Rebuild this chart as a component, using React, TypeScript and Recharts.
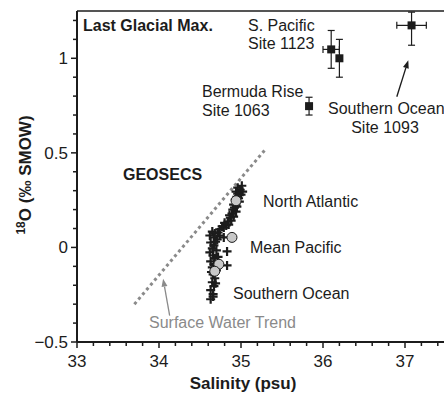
import React from 'react';
import { ScatterChart, Scatter, XAxis, YAxis, ErrorBar, ReferenceLine, ReferenceDot } from 'recharts';

const FONT = '"Liberation Sans", Arial, Helvetica, sans-serif';
const INK = '#1c1c1c';
const GREY = '#8a8a8a';

// GEOSECS seawater samples (salinity psu, d18O permil SMOW)
const geoSalinity = [
  35.01, 34.99, 34.96, 34.94, 35.0, 34.95, 34.93, 34.98, 34.91, 34.95, 34.9, 34.94, 34.89, 34.91,
  34.87, 34.88, 34.84, 34.85, 34.82, 34.79, 34.77, 34.74, 35.02, 34.96, 34.97, 34.92, 34.86, 34.8,
  34.65, 34.68, 34.72, 34.62, 34.67, 34.74, 34.79, 34.71, 34.63, 34.67, 34.65, 34.7, 34.62, 34.66,
  34.83, 34.68, 34.63, 34.67, 34.83, 34.65, 34.7, 34.66, 34.68, 34.65, 34.67, 34.63, 34.66, 34.63,
  34.66, 34.69, 34.72, 34.64, 34.69,
];
const geoD18O = [
  0.326, 0.305, 0.316, 0.295, 0.279, 0.268, 0.253, 0.242, 0.226, 0.216, 0.2, 0.189, 0.179, 0.163,
  0.158, 0.142, 0.137, 0.121, 0.116, 0.105, 0.111, 0.095, 0.295, 0.284, 0.26, 0.21, 0.17, 0.13,
  0.084, 0.074, 0.079, 0.063, 0.053, 0.063, 0.053, 0.042, 0.026, 0.011, -0.005, -0.016, -0.026, -0.042,
  -0.021, -0.058, -0.074, -0.089, -0.095, -0.105, -0.121, -0.142, -0.163, -0.184, -0.205, -0.226, -0.247, -0.274,
  -0.26, 0.03, -0.05, -0.13, -0.19,
];

// basin means
const meanSalinity = [34.94, 34.89, 34.73, 34.68];
const meanD18O = [0.247, 0.053, -0.089, -0.126];

// Last Glacial Maximum pore-water reconstructions
const lgmSalinity = [36.1, 36.2, 35.83, 37.08];
const lgmD18O = [1.047, 1.0, 0.747, 1.174];
const lgmSalErr = [0.1, 0, 0, 0.18];
const lgmD18OErr = [[0.1, 0.1], [0.1, 0.1], [0.047, 0.047], [0.105, 0.07]];

// surface water trend end points
const trendSalinity = [33.7, 35.3];
const trendD18O = [-0.3, 0.52];

const xTicks = [
  33, 33.2, 33.4, 33.6, 33.8, 34, 34.2, 34.4, 34.6, 34.8, 35, 35.2, 35.4, 35.6, 35.8,
  36, 36.2, 36.4, 36.6, 36.8, 37, 37.2, 37.4,
];
const yTicks = [
  -0.5, -0.4, -0.3, -0.2, -0.1, 0, 0.1, 0.2, 0.3, 0.4, 0.5, 0.6, 0.7, 0.8, 0.9, 1, 1.1, 1.2,
];

const notes = [
  { text: 'Last Glacial Max.', s: 33.073, d: 1.174, bold: true },
  { text: 'S. Pacific', s: 35.085, d: 1.174 },
  { text: 'Site 1123', s: 35.085, d: 1.079 },
  { text: 'Bermuda Rise', s: 34.524, d: 0.826 },
  { text: 'Site 1063', s: 34.524, d: 0.726 },
  { text: 'Southern Ocean', s: 36.061, d: 0.737 },
  { text: 'Site 1093', s: 36.756, d: 0.632, anchor: 'middle' },
  { text: 'GEOSECS', s: 33.561, d: 0.384, bold: true },
  { text: 'North Atlantic', s: 35.268, d: 0.242 },
  { text: 'Mean Pacific', s: 35.11, d: 0.0 },
  { text: 'Southern Ocean', s: 34.902, d: -0.242 },
  { text: 'Surface Water Trend', s: 33.878, d: -0.395, color: GREY },
];

// arrows: [from, to]
const arrows = [
  { from: { x: 34.13, y: -0.36 }, to: { x: 34.05, y: -0.165 }, color: GREY },
  { from: { x: 36.9, y: 0.797 }, to: { x: 37.04, y: 0.99 }, color: INK },
];

const geo = geoSalinity.map((s, i) => ({ s, d: geoD18O[i] }));
const means = meanSalinity.map((s, i) => ({ s, d: meanD18O[i] }));
const lgm = lgmSalinity.map((s, i) => ({ s, d: lgmD18O[i], sErr: lgmSalErr[i], dErr: lgmD18OErr[i] }));

const isWhole = (v: number, step: number) => Math.abs(v / step - Math.round(v / step)) < 1e-6;

const XTick = (props: any) => {
  const { x, y, payload } = props;
  const major = isWhole(payload.value, 1);
  return (
    <g>
      <line x1={x} y1={y} x2={x} y2={y + (major ? 6 : 4)} stroke={INK} strokeWidth={1.5} />
      {major && (
        <text x={x} y={y + 25} textAnchor="middle" fontSize={17} fill={INK} fontFamily={FONT}>
          {payload.value}
        </text>
      )}
    </g>
  );
};

const YTick = (props: any) => {
  const { x, y, payload } = props;
  const v = payload.value;
  const major = isWhole(v, 0.5);
  const label = v < 0 ? '\u2212' + Math.abs(v) : String(v);
  return (
    <g>
      <line x1={x} y1={y} x2={x - (major ? 6 : 4)} y2={y} stroke={INK} strokeWidth={1.5} />
      {major && (
        <text x={x - 9} y={y + 6} textAnchor="end" fontSize={17} fill={INK} fontFamily={FONT}>
          {label}
        </text>
      )}
    </g>
  );
};

const Cross = (p: any) => (
  <path d={`M${p.cx - 4.5},${p.cy}h9M${p.cx},${p.cy - 4.5}v9`} stroke={INK} strokeWidth={2.2} fill="none" />
);
const MeanDot = (p: any) => <circle cx={p.cx} cy={p.cy} r={5} fill="#c8c8c8" stroke={INK} strokeWidth={1} />;
const Square = (p: any) => <rect x={p.cx - 4} y={p.cy - 4} width={8} height={8} fill={INK} />;

const arrowShape = (color: string) => (p: any) => {
  const { x1, y1, x2, y2 } = p;
  const a = Math.atan2(y2 - y1, x2 - x1);
  const L = 8;
  const w = 3;
  const bx = x2 - L * Math.cos(a);
  const by = y2 - L * Math.sin(a);
  const px = -Math.sin(a) * w;
  const py = Math.cos(a) * w;
  return (
    <g>
      <line x1={x1} y1={y1} x2={bx} y2={by} stroke={color} strokeWidth={1.3} />
      <polygon points={`${x2},${y2} ${bx + px},${by + py} ${bx - px},${by - py}`} fill={color} />
    </g>
  );
};

const YTitle = () => (
  <text
    transform="translate(31,175) rotate(-90)"
    textAnchor="middle"
    fontSize={17}
    fontWeight="bold"
    fill={INK}
    fontFamily={FONT}
  >
    <tspan fontSize={12} dy={-6}>18</tspan>
    <tspan dy={6}>O (‰ SMOW)</tspan>
  </text>
);

const XTitle = () => (
  <text x={243} y={389} textAnchor="middle" fontSize={17} fontWeight="bold" fill={INK} fontFamily={FONT}>
    Salinity (psu)
  </text>
);

export default function App() {
  return (
    <div style={{ position: 'absolute', left: 0, top: 0, width: 444, height: 394, overflow: 'hidden', background: '#fff' }}>
      <ScatterChart width={452} height={394} margin={{ top: 11, right: 6, bottom: 0, left: 0 }}>
        <XAxis
          type="number"
          dataKey="s"
          domain={[33, 37.5]}
          ticks={xTicks}
          interval={0}
          tickSize={0}
          tickMargin={0}
          tickLine={false}
          tick={<XTick />}
          height={52}
          axisLine={{ stroke: INK, strokeWidth: 2 }}
          label={<XTitle />}
          allowDataOverflow
        />
        <YAxis
          type="number"
          dataKey="d"
          domain={[-0.5, 1.25]}
          ticks={yTicks}
          interval={0}
          tickSize={0}
          tickMargin={0}
          tickLine={false}
          tick={<YTick />}
          width={77}
          axisLine={{ stroke: INK, strokeWidth: 2 }}
          label={<YTitle />}
          allowDataOverflow
        />
        <ReferenceLine y={1.25} stroke={INK} strokeWidth={1.5} />
        <ReferenceLine
          segment={[
            { x: trendSalinity[0], y: trendD18O[0] },
            { x: trendSalinity[1], y: trendD18O[1] },
          ]}
          stroke={GREY}
          strokeWidth={3}
          strokeDasharray="3 3.2"
        />
        {arrows.map((a, i) => (
          <ReferenceLine key={'ar' + i} segment={[a.from, a.to]} shape={arrowShape(a.color)} />
        ))}
        <Scatter data={geo} shape={Cross} isAnimationActive={false} />
        <Scatter data={means} shape={MeanDot} isAnimationActive={false} />
        <Scatter data={lgm} shape={Square} isAnimationActive={false}>
          <ErrorBar dataKey="sErr" direction="x" width={3.5} stroke={INK} strokeWidth={1.2} />
          <ErrorBar dataKey="dErr" direction="y" width={3.5} stroke={INK} strokeWidth={1.2} />
        </Scatter>
        {notes.map((n, i) => (
          <ReferenceDot
            key={'n' + i}
            x={n.s}
            y={n.d}
            r={0}
            ifOverflow="visible"
            shape={(p: any) => (
              <text
                x={p.cx}
                y={p.cy}
                dy="0.35em"
                textAnchor={n.anchor || 'start'}
                fontSize={16}
                fontWeight={n.bold ? 'bold' : 'normal'}
                fill={n.color || INK}
                fontFamily={FONT}
              >
                {n.text}
              </text>
            )}
          />
        ))}
      </ScatterChart>
    </div>
  );
}
